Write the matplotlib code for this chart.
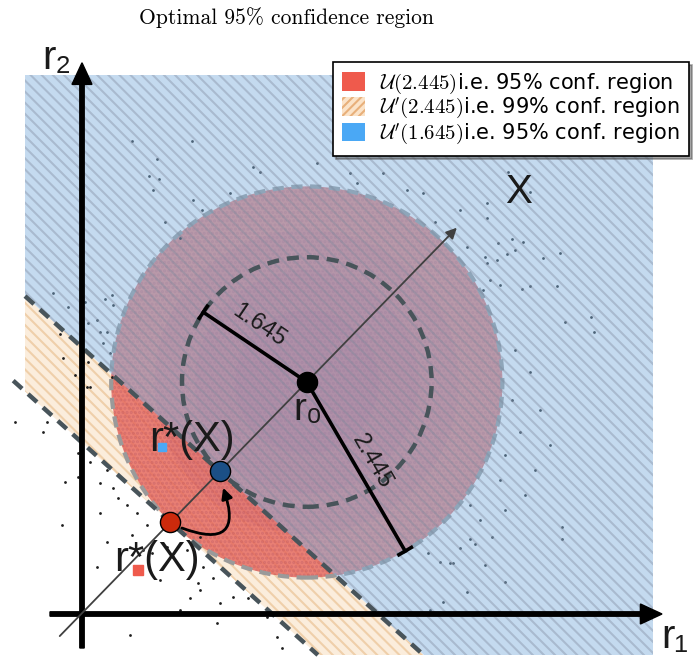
import numpy as np
import matplotlib
matplotlib.use("Agg")
import matplotlib.pyplot as plt
from matplotlib.patches import Circle, Polygon, Patch, FancyArrowPatch

plt.rcParams['mathtext.fontset'] = 'cm'
plt.rcParams['hatch.linewidth'] = 1.5

### geometry of the sketch (data units)
r0 = np.array([2.81, 2.90])
diag_angle = 45.8            # direction of the X axis (deg)
normal_angle = 48.0          # normal of the two dashed boundaries (deg)
radii_drawn = [1.56, 2.445]  # inner / outer circle as drawn
radius_labels = ["1.645", "2.445"]
radius_angles = [146.0, -59.8]
rect = [-0.7125, 7.1375, -0.5125, 6.7375]   # x0, x1, y0, y1 of the shaded box

legend_labels = [r"$\mathcal{U}(2.445)$i.e. 95% conf. region",
                 r"$\mathcal{U}'(2.445)$i.e. 99% conf. region",
                 r"$\mathcal{U}'(1.645)$i.e. 95% conf. region"]

### sample points seen outside the dense cloud
dots_x = [-0.84, -0.49, -0.44, -0.21, -0.05, -0.05, -0.25, 0.19, 0.31, 0.23, 0.23, 0.45,
          0.56, 0.69, 0.81, 0.63, 0.76, 0.88, 0.98, 1.23, 1.35, 1.48, 1.64, 1.73, 1.89,
          2.08, 1.51, 1.69, 0.60, 1.06, 1.14, 1.31, 1.45, 2.31, 2.50, 2.44, 0.10, 0.31,
          0.39, 1.48,
          5.33, 5.60, 5.06, 5.06, 5.38, 5.20, 5.51, 5.31, 5.41, 5.98, 5.76, 5.04, 5.06,
          5.23, 5.50, 5.60, 5.94, 5.10,
          6.00, 6.00, 5.13, 4.91, 4.73, 4.85, 4.48, 4.60, 4.64, 5.04, 5.29, 4.81, 4.51,
          4.35, 4.33,
          0.63, 1.38, 0.94, 0.84, 0.96,
          1.39, 1.50, 1.04, 0.89, 2.14, 2.94, 3.35, 3.76, 4.26, 4.41, 4.81, 4.73, 2.23,
          1.85, 1.23, 5.01, 5.19, 3.44, 4.06,
          6.04, 6.36, 6.40,
          -0.36, -0.18, -0.28, 0.04, 0.29, 0.38, 0.39, 0.19, 0.31, 0.23, 0.08, 0.26, 0.35,
          -0.24, -0.09, 0.08, 0.06, 0.10, 0.38,
          5.41, 5.60, 5.38, 5.73, 5.48, 5.29, 5.66, 5.23, 5.85, 5.29, 5.54, 4.98, 4.85]
dots_y = [2.40, 2.28, 2.40, 1.65, 2.01, 1.71, 1.11, 0.59, 0.90, 1.26, 1.64, 1.45,
          1.36, 1.26, 1.11, 0.99, 0.80, 0.76, 0.43, 0.05, 0.20, 0.30, 0.45, 0.14, 0.21,
          0.20, 0.59, -0.11, -0.26, 0.84, 0.71, 0.80, 0.39, -0.04, -0.43, -0.29, 1.90, 1.80,
          1.58, 0.96,
          5.53, 5.28, 5.14, 4.95, 4.69, 4.64, 4.65, 4.50, 4.55, 4.51, 4.45, 4.46, 4.39,
          4.11, 4.06, 4.10, 4.10, 4.18,
          1.09, 0.94, 0.96, 0.88, 0.83, 0.94, 0.65, 0.64, 0.64, 0.61, 0.40, 0.28, 0.15,
          0.05, 0.76,
          5.91, 5.91, 5.69, 5.48, 5.44,
          5.18, 5.05, 4.90, 5.30, 5.59, 5.64, 5.51, 5.51, 5.26, 4.90, 4.59, 5.05, 5.53,
          5.26, 4.70, 4.05, 4.43, 5.39, 5.30,
          3.65, 3.71, 3.53,
          4.01, 3.84, 3.50, 3.90, 3.94, 3.99, 3.86, 3.68, 3.53, 3.53, 3.64, 3.39, 3.26,
          3.20, 2.99, 3.15, 2.84, 2.84, 2.96,
          3.30, 3.03, 2.68, 2.55, 2.28, 1.99, 1.80, 1.68, 2.11, 1.30, 1.49, 1.18, 1.36]


def clip(poly, p0, n, sign):
    # keep the part of poly where sign*(p-p0).n >= 0
    out = []
    m = len(poly)
    for i in range(m):
        a = poly[i]
        b = poly[(i + 1) % m]
        da = sign * np.dot(a - p0, n)
        db = sign * np.dot(b - p0, n)
        if da >= 0:
            out.append(a)
        if da * db < 0:
            t = da / (da - db)
            out.append(a + t * (b - a))
    return np.array(out)


u = np.array([np.cos(np.radians(diag_angle)), np.sin(np.radians(diag_angle))])
n = np.array([np.cos(np.radians(normal_angle)), np.sin(np.radians(normal_angle))])
t_dir = np.array([n[1], -n[0]])
blue_pt = r0 - radii_drawn[0] * u
red_pt = r0 - radii_drawn[1] * u

box = np.array([[rect[0], rect[2]], [rect[1], rect[2]], [rect[1], rect[3]], [rect[0], rect[3]]])
blue_poly = clip(box, blue_pt, n, 1)
orange_poly = clip(clip(box, red_pt, n, 1), blue_pt, n, -1)

fig = plt.figure(figsize=(6.93, 6.59), dpi=100)
ax = fig.add_axes([0, 0, 1, 1])
ax.set_xlim(-1.025, 7.6375)
ax.set_ylim(-0.5625, 7.675)
ax.set_aspect('equal')
ax.axis('off')

# 99% half-plane band
ax.add_patch(Polygon(orange_poly, closed=True, facecolor='#fbeddc', edgecolor='#efcfaa',
                     hatch='\\\\\\', lw=0, zorder=1))
# U(2.445) disc
ax.add_patch(Circle(r0, radii_drawn[1], facecolor=(238/255, 105/255, 88/255, 0.78),
                    edgecolor='none', zorder=2))
# density of the gaussian cloud
for rr in [2.445, 1.9, 1.4, 0.9]:
    ax.add_patch(Circle(r0, rr, facecolor=(0.5, 0.12, 0.42, 0.06), edgecolor='none', zorder=2.1))
ax.add_patch(Circle(r0, radii_drawn[1], fill=False, edgecolor=(0.5, 0.15, 0.3, 0.18),
                    hatch='....', lw=0, zorder=2.2))
ax.scatter(dots_x, dots_y, s=4, color='#1e1e1e', lw=0, zorder=2.5)
ax.add_patch(Circle(r0, radii_drawn[1], fill=False, edgecolor='#9a9a9a', lw=3,
                    linestyle=(0, (2.7, 1.8)), zorder=2.6))
# 95% half-plane
ax.add_patch(Polygon(blue_poly, closed=True, facecolor=(130/255, 178/255, 222/255, 0.47),
                     edgecolor=(125/255, 135/255, 155/255, 0.38), hatch='\\\\\\', lw=0, zorder=3))

# inner circle and the two boundaries
ax.add_patch(Circle(r0, radii_drawn[0], fill=False, edgecolor='#48545a', lw=3.2,
                    linestyle=(0, (2.7, 1.8)), zorder=4))
for p0, xs in [(blue_pt, rect[0]), (red_pt, -0.86)]:
    ta = (xs - p0[0]) / t_dir[0]
    tb = (p0[1] - rect[2]) / n[0]
    ends = np.array([p0 + ta * t_dir, p0 + tb * t_dir])
    ax.plot(ends[:, 0], ends[:, 1], color='#48545a', lw=3.2, linestyle=(0, (2.7, 1.8)), zorder=4)

# axes
ax.arrow(0, -0.425, 0, 7.315, width=0.055, head_width=0.25, head_length=0.27,
         length_includes_head=True, fc='k', ec='k', zorder=5)
ax.arrow(-0.4, 0, 7.65, 0, width=0.055, head_width=0.25, head_length=0.27,
         length_includes_head=True, fc='k', ec='k', zorder=5)
ax.annotate('', xy=r0 + 2.69 * u, xytext=r0 - 4.43 * u,
            arrowprops=dict(arrowstyle='-|>', lw=1.3, color='#404040', mutation_scale=16,
                            shrinkA=0, shrinkB=0), zorder=5)

# radius bars
for rad, lab, ang in zip(radii_drawn, radius_labels, radius_angles):
    d = np.array([np.cos(np.radians(ang)), np.sin(np.radians(ang))])
    perp = np.array([-d[1], d[0]])
    end = r0 + rad * d
    ax.plot([r0[0], end[0]], [r0[1], end[1]], color='k', lw=2.6, zorder=6)
    cap = np.array([end - 0.09 * perp, end + 0.09 * perp])
    ax.plot(cap[:, 0], cap[:, 1], color='k', lw=2.6, zorder=6)

lab_font = dict(family=['Liberation Sans', 'DejaVu Sans'], fontweight='normal', color='#1a1a1a', zorder=9)
ax.text(2.22, 3.60, radius_labels[0], rotation=-34, fontsize=17, ha='center', va='center', **lab_font)
ax.text(3.62, 1.91, radius_labels[1], rotation=-60, fontsize=17, ha='center', va='center', **lab_font)

# points
ax.plot(*r0, 'o', ms=14.5, color='k', zorder=8)
ax.plot(*blue_pt, 'o', ms=14.5, color='#1b4f86', mec='k', mew=1, zorder=8)
ax.plot(*red_pt, 'o', ms=14.5, color='#cc2a0c', mec='k', mew=1, zorder=8)
ax.add_patch(FancyArrowPatch(red_pt + np.array([0.11, -0.06]), blue_pt + np.array([0.03, -0.17]),
                             connectionstyle='arc3,rad=1.1', arrowstyle='-|>', mutation_scale=16,
                             lw=2, color='k', zorder=8))

ax.text(-0.31, 6.95, 'r\u2082', fontsize=29, ha='center', va='center', **lab_font)
ax.text(7.41, -0.29, 'r\u2081', fontsize=29, ha='center', va='center', **lab_font)
ax.text(5.46, 5.28, 'X', fontsize=29, ha='center', va='center', **lab_font)
ax.text(2.83, 2.55, 'r\u2080', fontsize=28, ha='center', va='center', **lab_font)
ax.text(1.375, 2.175, 'r*(X)', fontsize=30, ha='center', va='center', **lab_font)
ax.text(0.94, 0.675, 'r*(X)', fontsize=30, ha='center', va='center', **lab_font)
ax.plot(1.0, 2.09, 's', ms=6, color='#4aa8f5', zorder=9)
ax.plot(0.70, 0.55, 's', ms=7, color='#ef5a4c', zorder=9)

fig.text(0.413, 0.973, 'Optimal 95% confidence region', family='cmr10', fontsize=15.5,
         ha='center', va='center')

handles = [Patch(facecolor='#ef5a4c', edgecolor='none'),
           Patch(facecolor='#fbe3c8', edgecolor='#e8b07a', hatch='////', lw=0),
           Patch(facecolor='#4aa8f5', edgecolor='none')]
leg = ax.legend(handles, legend_labels, loc='upper left', bbox_to_anchor=(333/693, 1 - 62/659),
                bbox_transform=fig.transFigure, frameon=True, fancybox=False,
                shadow=True, edgecolor='k', framealpha=1, labelspacing=0.0, handlelength=1.1,
                handleheight=1.0, handletextpad=0.7, borderpad=0.45, borderaxespad=0,
                prop={'family': ['DejaVu Sans'], 'size': 15})
leg.set_zorder(20)
leg.get_frame().set_linewidth(1.2)

fig.savefig('out.png', dpi=100)
